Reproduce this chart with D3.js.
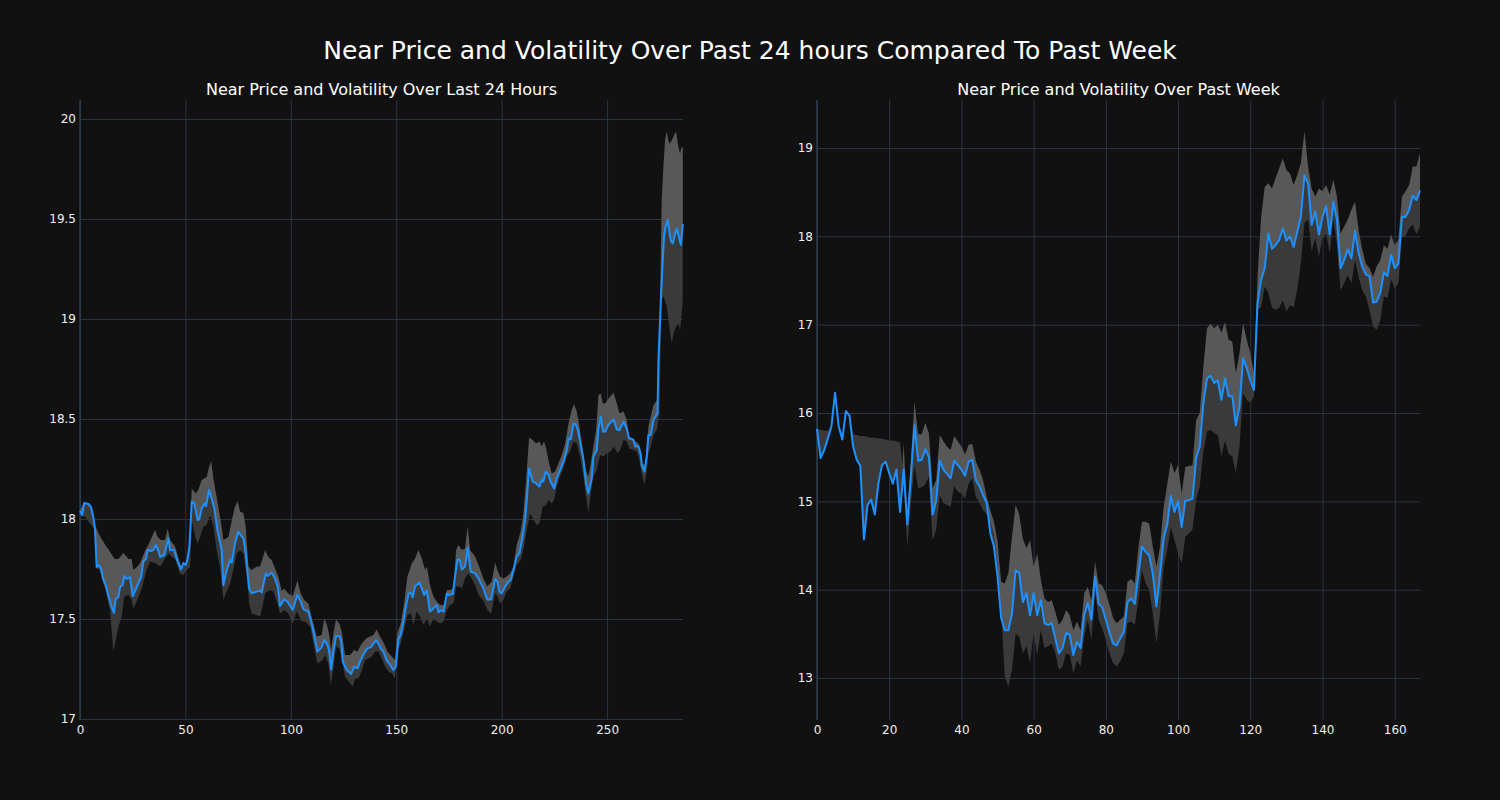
<!DOCTYPE html>
<html>
<head>
<meta charset="utf-8">
<script src="https://cdn.jsdelivr.net/npm/d3@7"></script>
<style>
  body { margin: 0; background: #111111; }
  svg { display: block; }
</style>
</head>
<body>
<div id="chart"></div>
<script>
// Last 24 hours (5 minute steps): [index, value]
const dayPrice = [[0,18.04],[1,18.02],[2,18.08],[4,18.075],[5.2,18.06],[6.3,18.01],[7.1,17.95],[7.9,17.76],[9,17.77],[10,17.75],[11,17.70],[12.2,17.67],[13.4,17.62],[15,17.56],[16.1,17.53],[16.9,17.60],[18.2,17.61],[19,17.66],[20.2,17.67],[21,17.715],[22.1,17.70],[23.7,17.71],[25,17.615],[26.1,17.64],[27.7,17.68],[29,17.71],[30,17.787],[31.3,17.80],[32.1,17.845],[33.7,17.84],[34.8,17.845],[36,17.87],[37.2,17.84],[38,17.81],[40,17.82],[41,17.865],[42,17.903],[42.7,17.845],[44.6,17.845],[45.9,17.80],[47.9,17.748],[49,17.78],[50.1,17.77],[51,17.80],[51.9,17.862],[53,18.087],[54.2,18.078],[55.8,17.995],[56.6,17.998],[57.7,18.053],[59.3,18.078],[59.8,18.065],[61.2,18.145],[62.5,18.10],[63.7,18.053],[65.3,17.937],[67.2,17.845],[68,17.67],[69.6,17.745],[71.2,17.795],[72,17.782],[73.5,17.878],[75.1,17.937],[76.2,17.92],[77.5,17.903],[78.6,17.828],[80.2,17.653],[81.4,17.628],[83.8,17.637],[85.4,17.642],[86.2,17.632],[88.1,17.728],[89,17.715],[90.9,17.732],[92.5,17.703],[93.8,17.662],[94.9,17.565],[96.8,17.598],[98.4,17.587],[100.9,17.545],[103.1,17.62],[104.7,17.587],[106,17.548],[108.3,17.537],[110.2,17.462],[112.6,17.337],[114.6,17.358],[115.9,17.395],[117,17.378],[118.1,17.345],[119.1,17.248],[120.2,17.337],[121.4,17.415],[123,17.415],[123.8,17.395],[124.6,17.287],[126.5,17.245],[128.6,17.225],[130,17.262],[131.6,17.253],[132.8,17.287],[134.9,17.332],[136.3,17.353],[137.9,17.358],[139.2,17.378],[140.4,17.395],[141.5,17.378],[142.6,17.353],[143.9,17.337],[145.5,17.292],[147.1,17.27],[148.6,17.245],[149.8,17.262],[151,17.398],[152.1,17.42],[153.4,17.487],[154.7,17.57],[155.9,17.628],[156.9,17.632],[157.8,17.608],[158.9,17.662],[161,17.683],[162.1,17.653],[163.2,17.62],[164.5,17.642],[166,17.537],[167.6,17.553],[169.2,17.57],[170,17.532],[171.1,17.545],[172.4,17.537],[174,17.628],[174.7,17.62],[176.8,17.625],[177.9,17.715],[179,17.795],[180,17.798],[181.1,17.748],[182.6,17.762],[183.9,17.858],[185.3,17.737],[187.4,17.728],[189,17.703],[191.3,17.653],[193.2,17.598],[195,17.598],[196.9,17.70],[198,17.687],[198.9,17.637],[200,17.628],[201.6,17.662],[203.2,17.687],[204.3,17.695],[205.6,17.745],[207.1,17.812],[208.4,17.828],[210,17.915],[211.1,17.995],[211.9,18.095],[213,18.253],[214.7,18.187],[216.3,18.178],[217.9,18.162],[219,18.195],[219.8,18.187],[220.9,18.237],[222.2,18.22],[223.4,18.182],[224.9,18.153],[226.1,18.203],[227.7,18.245],[229.3,18.287],[230.9,18.345],[231.7,18.403],[232.8,18.398],[234,18.475],[235,18.475],[236.1,18.445],[237.2,18.387],[238.8,18.295],[240,18.178],[241.1,18.128],[242.7,18.203],[243.5,18.312],[245.1,18.345],[245.9,18.453],[247,18.512],[248,18.437],[249.1,18.437],[250.6,18.47],[253,18.498],[254.6,18.448],[255.9,18.445],[257.8,18.487],[259.3,18.453],[260.4,18.403],[262.5,18.395],[263.4,18.362],[264.9,18.362],[266,18.32],[266.4,18.27],[267.7,18.237],[268.8,18.312],[269.6,18.42],[270.7,18.42],[272,18.495],[273.9,18.528],[274.35,18.795],[275.5,19.095],[276.25,19.262],[277,19.412],[277.8,19.465],[278.8,19.495],[279.6,19.428],[280.4,19.387],[281.2,19.378],[282.3,19.428],[283.1,19.453],[284,19.412],[285,19.37],[285.9,19.475]];

const dayUpper = [[0,18.045],[2,18.085],[4,18.075],[5.2,18.06],[6.3,18.01],[7.1,17.97],[8.7,17.93],[10.3,17.90],[12,17.87],[13.4,17.85],[15.8,17.81],[16.6,17.80],[18.2,17.80],[20.6,17.83],[21.4,17.82],[23,17.80],[24.5,17.80],[25.3,17.745],[27,17.76],[28.5,17.78],[30.8,17.84],[32.4,17.87],[35.6,17.945],[36.8,17.91],[38.4,17.895],[40.3,17.895],[41.6,17.953],[42.7,17.895],[45.1,17.862],[47.4,17.78],[48.2,17.755],[50.6,17.775],[51.7,17.81],[53,18.153],[54.9,18.128],[56.1,18.145],[57.7,18.195],[60.1,18.21],[61.2,18.26],[62.2,18.29],[63.3,18.20],[64.8,18.11],[67.2,17.96],[68,17.895],[70.4,17.91],[72,17.995],[73.5,18.06],[74.8,18.09],[75.9,18.037],[77.5,18.03],[78.6,17.96],[79.9,17.762],[81.4,17.745],[83.8,17.762],[85.4,17.762],[87.8,17.845],[89.3,17.81],[90.9,17.795],[92.5,17.753],[94.1,17.71],[95.7,17.64],[96.8,17.653],[98.8,17.628],[100.9,17.615],[103.1,17.692],[104.7,17.628],[106.3,17.595],[108.3,17.578],[110.2,17.495],[112.3,17.412],[114.6,17.42],[115.9,17.503],[117,17.475],[118.1,17.428],[119.1,17.345],[120.2,17.428],[121.4,17.498],[123,17.478],[124.1,17.437],[125.7,17.32],[128.1,17.32],[130,17.345],[131.6,17.337],[133.6,17.378],[135.7,17.403],[137.6,17.412],[139.2,17.42],[140.7,17.448],[142.3,17.412],[144.2,17.378],[145.8,17.337],[147.9,17.312],[149.4,17.295],[150.5,17.428],[152.1,17.478],[153.7,17.578],[155.3,17.712],[157.3,17.778],[158.9,17.803],[160.5,17.845],[162.1,17.803],[163.7,17.745],[164.5,17.762],[166,17.67],[167.6,17.612],[169.2,17.587],[170.8,17.57],[172.7,17.57],[174,17.645],[175.5,17.645],[177.1,17.653],[178.4,17.845],[179.5,17.87],[181.1,17.845],[182.6,17.853],[183.9,17.962],[185,17.845],[187.4,17.812],[189,17.77],[190.5,17.728],[191.6,17.695],[193.2,17.662],[195.3,17.687],[196.9,17.782],[198,17.745],[199.2,17.712],[200.8,17.703],[202.4,17.712],[204,17.728],[205.6,17.762],[207.1,17.87],[209,17.937],[210.3,18.028],[211.6,18.195],[213,18.408],[214.7,18.395],[216.3,18.378],[217.9,18.387],[219,18.362],[220.1,18.387],[221.1,18.353],[222.3,18.287],[223.75,18.228],[225.3,18.237],[226.9,18.278],[228.5,18.32],[230.1,18.378],[231.7,18.478],[233.2,18.545],[234.3,18.575],[235.6,18.537],[236.9,18.462],[238.5,18.345],[239.6,18.26],[241,18.21],[242,18.26],[243.5,18.362],[244.8,18.445],[245.9,18.62],[247,18.628],[248,18.578],[249.1,18.578],[250.6,18.603],[252.2,18.62],[253,18.632],[254.6,18.578],[255.9,18.528],[257.8,18.537],[259.3,18.495],[260.4,18.412],[262.5,18.403],[263.4,18.387],[264.9,18.378],[266,18.345],[266.9,18.278],[268,18.27],[268.8,18.362],[269.6,18.462],[270.7,18.512],[272,18.57],[273.6,18.592],[274.4,18.612],[275.9,19.595],[276.7,19.762],[277.5,19.895],[278.3,19.937],[279.4,19.878],[280.4,19.887],[281.5,19.912],[282.7,19.937],[283.8,19.862],[284.6,19.828],[285.4,19.862],[285.9,19.853]];

const dayLower = [[0,18.02],[2.4,18.01],[4.7,17.98],[7.1,17.945],[7.9,17.75],[9,17.75],[10,17.72],[11,17.68],[12.2,17.64],[13.4,17.58],[14.2,17.545],[15.8,17.337],[16.6,17.378],[18.2,17.46],[19.8,17.512],[21,17.612],[23,17.62],[24.5,17.595],[25.3,17.553],[26.9,17.587],[29.3,17.653],[31.6,17.745],[33.2,17.787],[35.6,17.78],[38,17.762],[39.5,17.787],[42,17.828],[43.5,17.81],[45.1,17.80],[47.4,17.728],[49,17.72],[50.6,17.745],[52.2,17.76],[53,17.995],[54.6,17.912],[55.8,17.878],[57,17.912],[58.5,17.962],[60.1,17.97],[61.7,18.02],[63.3,17.962],[64.8,17.845],[66.4,17.762],[68,17.595],[69.6,17.637],[71.2,17.678],[72.7,17.745],[74.3,17.828],[75.9,17.845],[77.5,17.828],[79.1,17.712],[80.2,17.578],[81.4,17.528],[83.8,17.52],[85.4,17.512],[86.2,17.545],[87.8,17.628],[90.1,17.645],[91.7,17.637],[93.3,17.587],[94.9,17.528],[96.8,17.545],[98.8,17.528],[100.9,17.478],[102.8,17.537],[105.2,17.487],[106.7,17.487],[109.1,17.462],[110.7,17.378],[112.6,17.278],[115.1,17.295],[116.2,17.32],[117.8,17.278],[118.9,17.17],[120.2,17.245],[121.4,17.362],[123,17.353],[124.1,17.303],[125.7,17.212],[128.1,17.178],[129.4,17.162],[130.5,17.203],[132,17.203],[133.6,17.237],[135.2,17.295],[136.8,17.303],[138.4,17.312],[140,17.337],[141.5,17.337],[143.1,17.303],[144.7,17.262],[146.3,17.237],[147.9,17.228],[149.4,17.203],[150.5,17.345],[152.1,17.378],[153.7,17.445],[155.3,17.52],[156.9,17.528],[158.1,17.47],[159.7,17.537],[161.3,17.512],[162.9,17.47],[164.5,17.503],[166,17.462],[167.6,17.503],[169.2,17.487],[170.8,17.478],[172.4,17.487],[174,17.545],[175.5,17.57],[177.1,17.578],[178.4,17.662],[180,17.662],[181.1,17.653],[182.6,17.703],[184.2,17.728],[185.8,17.703],[187.4,17.67],[189,17.62],[191.6,17.587],[193.2,17.545],[195,17.528],[196.9,17.628],[198,17.612],[199.2,17.578],[200.8,17.595],[202.4,17.637],[204,17.653],[205.6,17.712],[207.1,17.77],[209,17.795],[210.6,17.862],[211.9,17.945],[213.5,18.028],[215.1,17.995],[216.6,17.97],[217.9,17.978],[219.5,18.062],[221.1,18.07],[222.2,18.095],[223.75,18.078],[224.9,18.095],[226.1,18.162],[227.7,18.212],[229.3,18.253],[230.9,18.312],[232.4,18.337],[234,18.387],[235.6,18.378],[237.2,18.312],[238.8,18.212],[240,18.112],[241.1,18.032],[242.7,18.162],[243.5,18.212],[245.1,18.245],[246.7,18.32],[248.3,18.312],[249.8,18.328],[251.7,18.337],[253.3,18.362],[254.9,18.328],[256.2,18.345],[257.8,18.395],[259.3,18.387],[260.6,18.353],[262.5,18.345],[264.1,18.337],[265.3,18.295],[266.4,18.228],[267.7,18.17],[268.8,18.237],[269.6,18.328],[270.7,18.362],[272,18.42],[273.6,18.445],[274.8,18.528],[275.9,19.095],[276.7,19.112],[278.3,19.062],[279.1,18.995],[279.9,18.928],[280.7,18.878],[281.5,18.928],[282.7,18.962],[283.8,18.978],[284.6,18.945],[285.4,19.028],[285.9,19.095]];

// Past week (hourly, index 0..167)
const weekPrice = [15.82,15.49,15.58,15.71,15.85,16.23,15.85,15.70,16.02,15.97,15.62,15.47,15.40,14.57,14.96,15.02,14.85,15.20,15.41,15.45,15.32,15.20,15.36,14.88,15.36,14.74,15.28,15.86,15.46,15.47,15.59,15.50,14.85,15.00,15.46,15.36,15.31,15.26,15.46,15.41,15.36,15.29,15.45,15.47,15.24,15.17,15.07,14.98,14.64,14.49,14.15,13.68,13.54,13.54,13.73,14.22,14.19,13.86,13.96,13.71,13.96,13.71,13.88,13.62,13.60,13.62,13.45,13.28,13.34,13.51,13.49,13.26,13.41,13.34,13.71,13.85,13.66,14.15,13.84,13.80,13.66,13.52,13.39,13.37,13.45,13.52,13.86,13.90,13.84,14.17,14.49,14.43,14.39,14.18,13.81,14.17,14.58,14.74,15.06,14.88,15.00,14.71,15.01,15.01,15.03,15.49,15.62,16.11,16.39,16.42,16.34,16.37,16.15,16.39,16.19,16.19,15.86,16.07,16.62,16.51,16.37,16.26,17.24,17.51,17.64,18.03,17.86,17.90,17.96,18.09,17.95,18.00,17.88,18.05,18.22,18.69,18.60,18.13,18.28,18.02,18.22,18.34,18.02,18.39,18.19,17.64,17.73,17.85,17.75,18.06,17.81,17.66,17.57,17.55,17.25,17.26,17.36,17.59,17.55,17.79,17.64,17.69,18.22,18.22,18.30,18.46,18.41,18.52];

// band edges; over the first day the shaded band sits above the price
const weekUpper = [15.82,15.49,15.58,15.71,15.85,16.23,15.85,15.70,16.02,15.97,15.62,15.47,15.40,14.57,14.96,15.02,14.85,15.20,15.41,15.45,15.32,15.20,15.36,14.88,15.66,14.85,15.45,16.13,15.76,15.76,15.89,15.77,15.15,15.24,15.75,15.68,15.62,15.58,15.74,15.68,15.62,15.53,15.64,15.65,15.45,15.36,15.24,15.05,14.90,14.77,14.55,14.09,14.07,14.19,14.60,14.96,14.85,14.58,14.47,14.56,14.26,14.41,14.11,13.90,13.86,13.88,13.75,13.60,13.66,13.77,13.71,13.54,13.64,13.54,13.96,14.03,13.88,14.32,14.07,14.05,13.96,13.83,13.68,13.62,13.66,13.70,14.09,14.12,14.07,14.47,14.77,14.77,14.75,14.49,14.26,14.49,14.94,15.19,15.45,15.32,15.41,15.09,15.39,15.40,15.41,15.92,16.00,16.52,16.96,17.01,16.96,17.00,16.91,17.03,16.83,16.81,16.45,16.68,17.02,16.83,16.68,16.45,17.54,18.22,18.56,18.60,18.54,18.66,18.77,18.88,18.75,18.71,18.58,18.69,18.83,19.19,18.79,18.54,18.45,18.54,18.51,18.58,18.47,18.64,18.45,18.03,18.11,18.19,18.30,18.39,18.07,17.85,17.69,17.64,17.54,17.66,17.73,17.90,17.86,18.02,17.90,17.96,18.45,18.51,18.58,18.79,18.79,18.94];

const weekLower = [15.82,15.81,15.80,15.80,15.85,16.23,15.85,15.77,16.02,15.97,15.76,15.75,15.74,15.74,15.73,15.72,15.72,15.71,15.71,15.70,15.69,15.69,15.68,15.67,15.30,14.49,14.98,15.40,15.15,15.16,15.19,15.28,14.56,14.68,15.07,14.98,14.96,14.94,15.17,15.11,15.09,15.03,15.20,15.26,15.05,14.98,14.90,14.85,14.77,14.64,14.30,13.77,13.02,12.90,13.09,13.50,13.47,13.28,13.36,13.17,13.50,13.26,13.54,13.34,13.36,13.39,13.28,13.09,13.13,13.28,13.26,13.05,13.20,13.13,13.47,13.66,13.43,14.00,13.66,13.56,13.43,13.28,13.17,13.13,13.19,13.28,13.62,13.64,13.60,13.88,14.22,14.07,14.00,13.73,13.39,13.73,14.26,14.45,14.71,14.56,14.41,14.30,14.60,14.64,14.68,15.02,15.17,15.56,15.79,15.81,15.77,15.75,15.51,15.69,15.54,15.51,15.32,15.62,16.22,16.15,16.11,16.19,17.17,17.20,17.43,17.36,17.19,17.17,17.19,17.28,17.15,17.22,17.20,17.39,17.69,18.15,18.19,17.83,17.98,17.77,17.98,18.03,17.81,18.19,17.90,17.39,17.47,17.56,17.47,17.73,17.54,17.39,17.32,17.17,16.98,16.94,17.05,17.32,17.30,17.51,17.41,17.47,17.98,18.00,18.09,18.13,18.02,18.11];

// tick values
const dayXTicks = [0, 50, 100, 150, 200, 250];
const dayYTicks = [17, 17.5, 18, 18.5, 19, 19.5, 20];
const weekXTicks = [0, 20, 40, 60, 80, 100, 120, 140, 160];
const weekYTicks = [13, 14, 15, 16, 17, 18, 19];

const W = 1500, H = 800;
const plotTop = 100, plotBottom = 720;

const svg = d3.select("#chart").append("svg")
  .attr("width", W)
  .attr("height", H);

svg.append("rect")
  .attr("width", W)
  .attr("height", H)
  .attr("fill", "#111111");

svg.append("text")
  .attr("x", 750)
  .attr("y", 59)
  .attr("text-anchor", "middle")
  .attr("fill", "#ffffff")
  .style("font-family", "DejaVu Sans")
  .style("font-size", "25px")
  .text("Near Price and Volatility Over Past 24 hours Compared To Past Week");

function drawPanel(p) {
  const x = d3.scaleLinear().domain(p.xDomain).range([p.left, p.right]);
  const y = d3.scaleLinear().domain(p.yDomain).range([plotBottom, plotTop]);
  const g = svg.append("g");

  // grid + tick labels
  const xAxis = d3.axisBottom(x)
    .tickValues(p.xTicks)
    .tickSizeInner(-(plotBottom - plotTop))
    .tickSizeOuter(0)
    .tickPadding(5);
  const yAxis = d3.axisLeft(y)
    .tickValues(p.yTicks)
    .tickFormat(d3.format("~g"))
    .tickSizeInner(-(p.right - p.left))
    .tickSizeOuter(0)
    .tickPadding(4);

  [g.append("g").attr("transform", `translate(0,${plotBottom})`).call(xAxis),
   g.append("g").attr("transform", `translate(${p.left},0)`).call(yAxis)]
    .forEach(a => {
      a.select(".domain").remove();
      a.selectAll("line").attr("stroke", "#2a3543").attr("stroke-width", 1);
      a.selectAll("text")
        .attr("fill", "#f0f0f0")
        .style("font-family", "DejaVu Sans")
        .style("font-size", "12px");
    });

  // left spine
  g.append("line")
    .attr("x1", p.left).attr("x2", p.left)
    .attr("y1", plotTop).attr("y2", plotBottom)
    .attr("stroke", "#2e3d4e")
    .attr("stroke-width", 1.5);

  const path = d3.line().x(d => x(d[0])).y(d => y(d[1]));

  // light band: price up to upper edge; dark band: lower edge up to price
  g.append("path")
    .attr("d", path(p.upper.concat(p.price.slice().reverse())) + "Z")
    .attr("fill", "#585858");
  g.append("path")
    .attr("d", path(p.price.concat(p.lower.slice().reverse())) + "Z")
    .attr("fill", "#3a3a3a");

  g.append("path")
    .attr("d", path(p.price))
    .attr("fill", "none")
    .attr("stroke", "#1e90ff")
    .attr("stroke-width", 2)
    .attr("stroke-linejoin", "round");

  g.append("text")
    .attr("x", (p.left + p.right) / 2)
    .attr("y", 95)
    .attr("text-anchor", "middle")
    .attr("fill", "#ffffff")
    .style("font-family", "DejaVu Sans")
    .style("font-size", "16px")
    .text(p.title);
}

const toPairs = arr => arr.map((v, i) => [i, v]);

drawPanel({
  title: "Near Price and Volatility Over Last 24 Hours",
  left: 80, right: 683,
  xDomain: [0, 286], yDomain: [16.995, 20.095],
  xTicks: dayXTicks, yTicks: dayYTicks,
  price: dayPrice, upper: dayUpper, lower: dayLower
});

drawPanel({
  title: "Near Price and Volatility Over Past Week",
  left: 817, right: 1420,
  xDomain: [0, 167], yDomain: [12.525, 19.543],
  xTicks: weekXTicks, yTicks: weekYTicks,
  price: toPairs(weekPrice), upper: toPairs(weekUpper), lower: toPairs(weekLower)
});
</script>
</body>
</html>
